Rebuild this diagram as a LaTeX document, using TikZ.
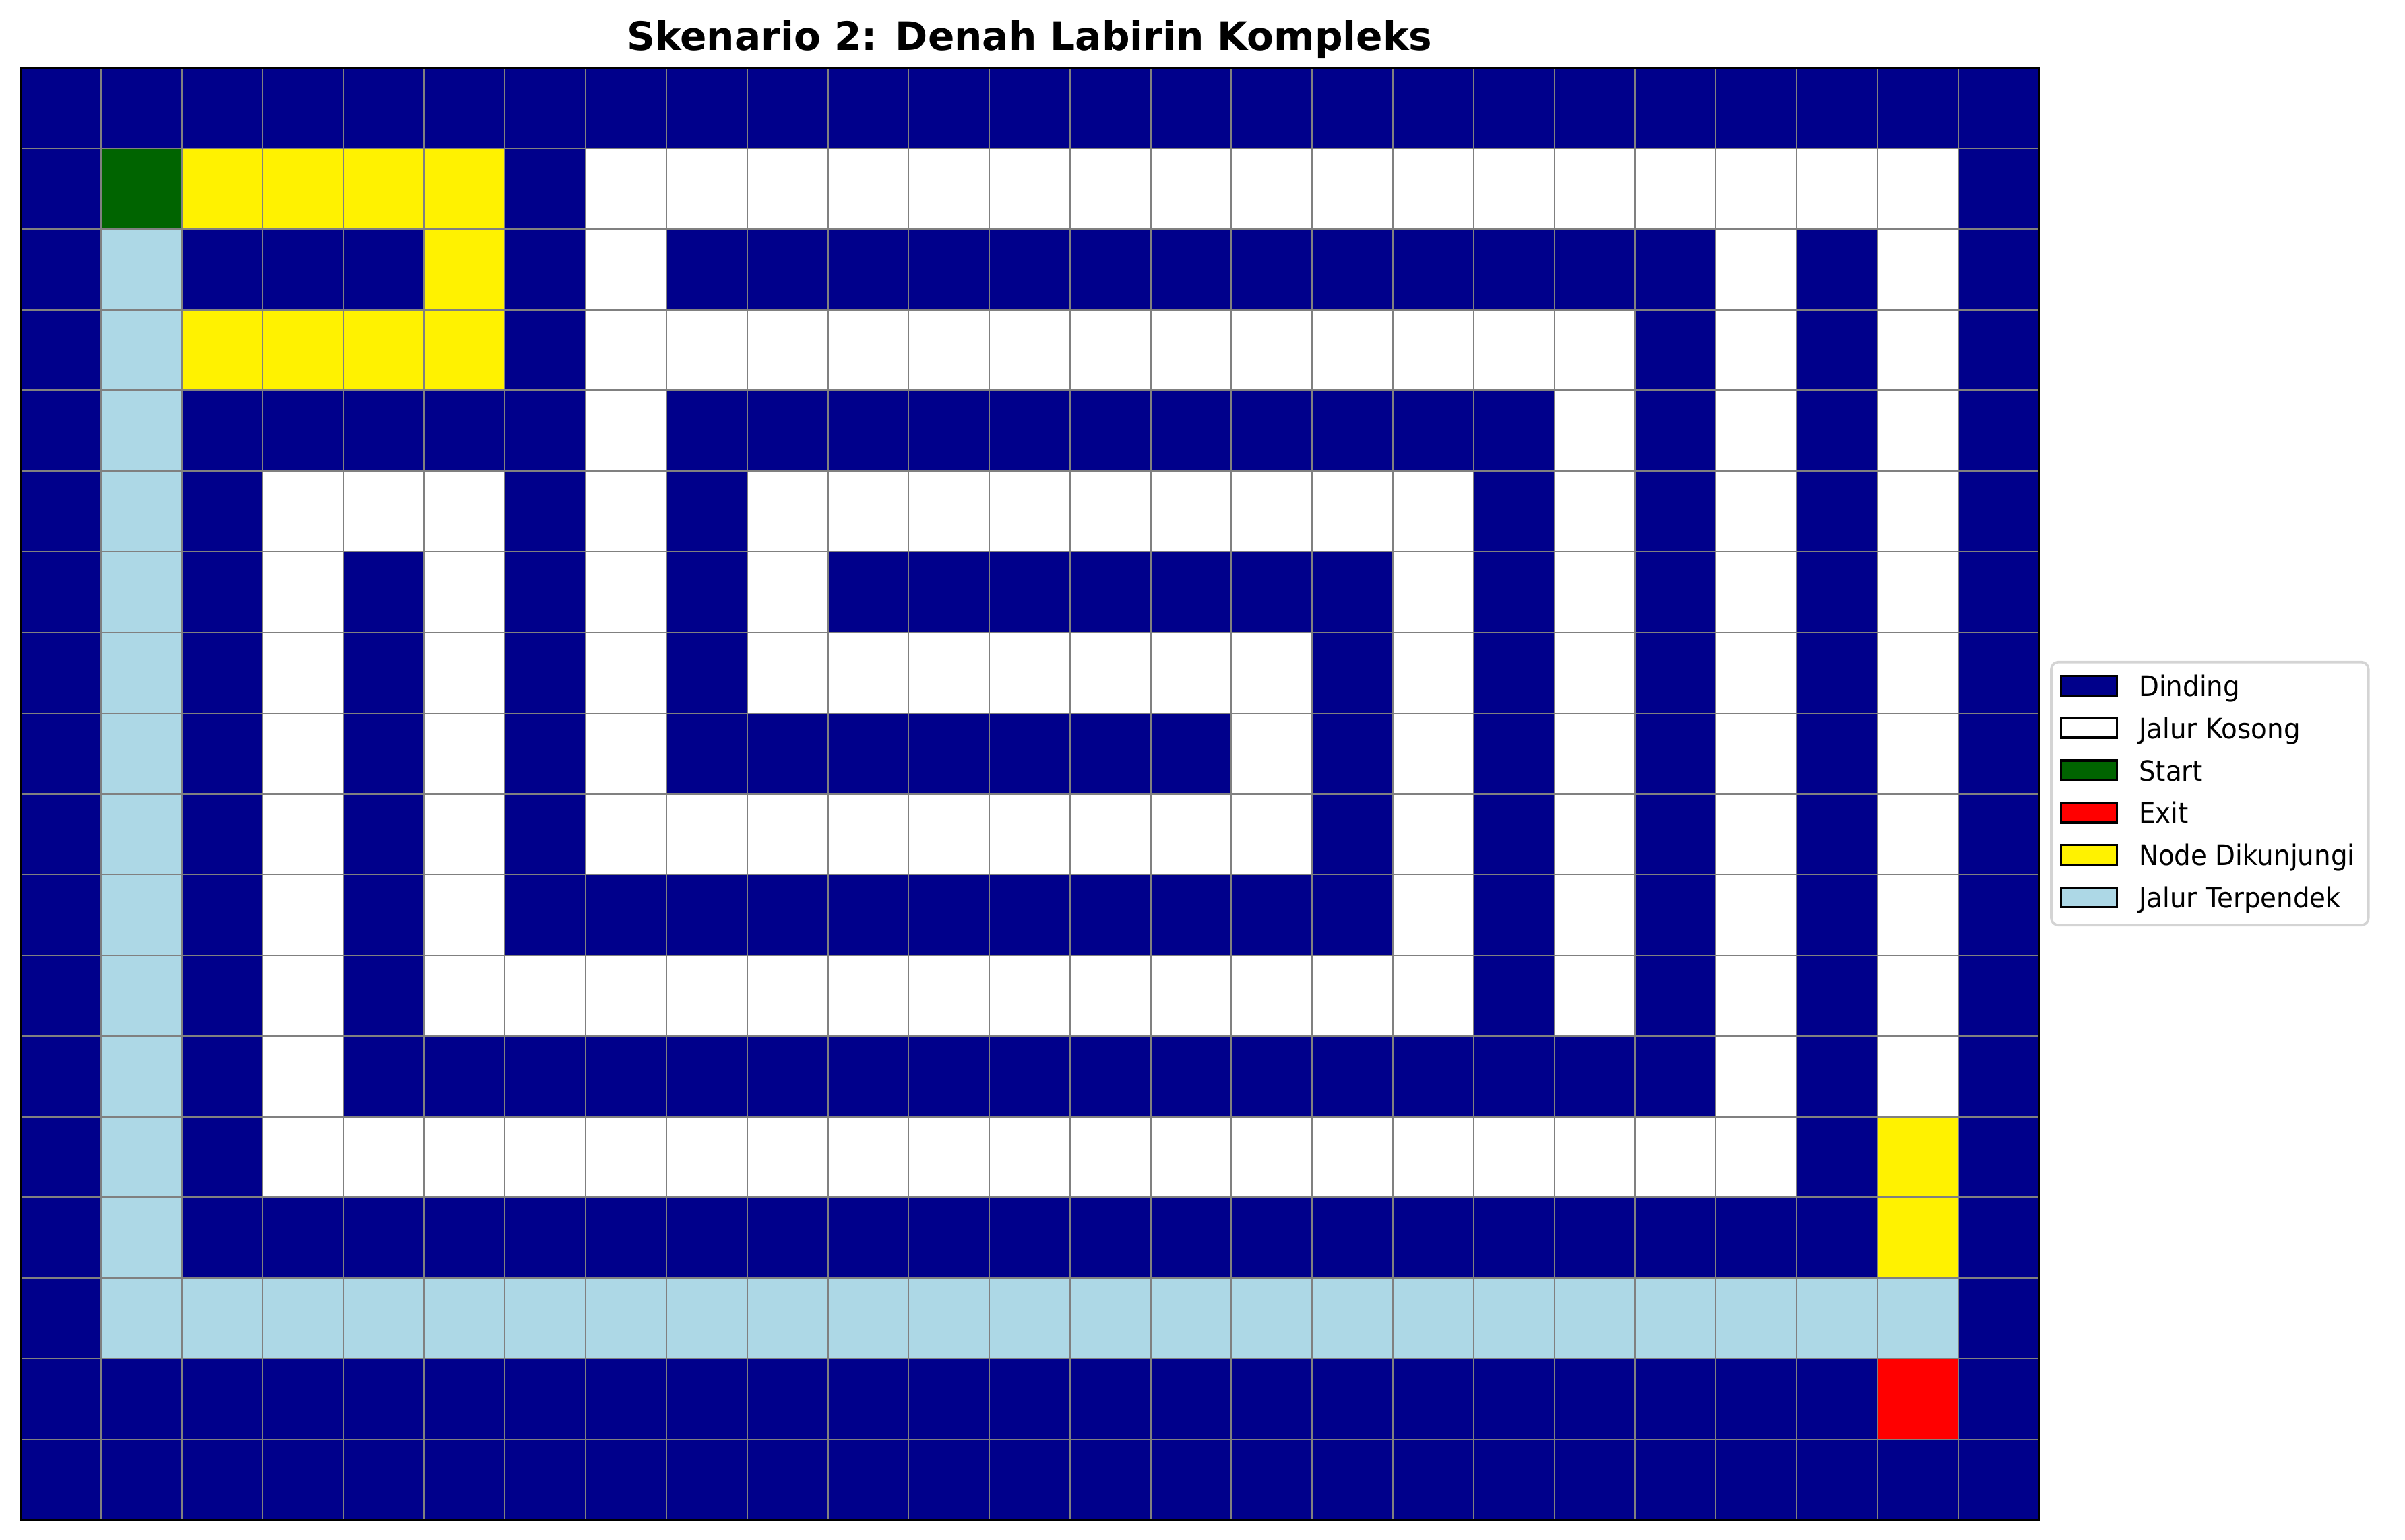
\documentclass[tikz,border=0pt]{standalone}
\usepackage{fontspec}
\setmainfont{DejaVu Sans}
\newfontfamily\keyfont[FakeStretch=0.935]{DejaVu Sans}
\definecolor{wallblue}{HTML}{00008B}
\definecolor{startgreen}{HTML}{006400}
\definecolor{pathblue}{HTML}{ADD8E6}

\begin{document}
\begin{tikzpicture}[
  x=1.0143cm, y=-1.0143cm,
  font=\fontsize{10}{12}\selectfont,
  cellgrid/.style={draw=gray, line width=0.5pt},
  frame/.style={draw=black, line width=0.8pt},
  keybox/.style={rectangle, draw=black, line width=0.9pt, inner sep=0pt,
                 minimum width=20pt, minimum height=7pt},
  keytext/.style={anchor=base west, inner sep=0pt, font=\fontsize{10}{12}\keyfont}
]
\useasboundingbox (-0.2546,-0.837) rectangle (29.537,18.244);

% walls everywhere, open cells on top
\fill[wallblue] (0,0) rectangle (25,18);
\fill[white] (7,1) rectangle (24,2)  (7,3) rectangle (20,4)
             (3,5) rectangle (6,6)   (9,5) rectangle (18,6)
             (9,7) rectangle (16,8)  (7,9) rectangle (16,10)
             (5,11) rectangle (18,12) (3,13) rectangle (22,14);
\fill[white] (7,1) rectangle (8,10)  (3,5) rectangle (4,14)
             (5,5) rectangle (6,12)  (9,5) rectangle (10,8)
             (15,7) rectangle (16,10) (17,5) rectangle (18,12)
             (19,3) rectangle (20,12) (21,1) rectangle (22,14)
             (23,1) rectangle (24,13);
% search result
\fill[yellow] (2,1) rectangle (6,2) (5,2) rectangle (6,3) (2,3) rectangle (6,4)
              (23,13) rectangle (24,15);
\fill[pathblue] (1,2) rectangle (2,16) (1,15) rectangle (24,16);
\fill[startgreen] (1,1) rectangle (2,2);
\fill[red] (23,16) rectangle (24,17);

\foreach \c in {1,...,24} \draw[cellgrid] (\c,0) -- (\c,18);
\foreach \r in {1,...,17} \draw[cellgrid] (0,\r) -- (25,\r);
\draw[frame] (0,0) rectangle (25,18);

\node[font=\fontsize{14}{17}\selectfont\bfseries, anchor=base, inner sep=0pt]
  (title) at (12.5,-0.211) {Skenario 2: Denah Labirin Kompleks};

% legend
\draw[draw=black!17, line width=0.9pt, fill=white, rounded corners=2.5pt]
  (25.155,7.366) rectangle (29.083,10.626);
\node[keybox, fill=wallblue]   (kwall)  at (25.622,7.660)  {};
\node[keybox, fill=white]      (kfree)  at (25.622,8.184)  {};
\node[keybox, fill=startgreen] (kstart) at (25.622,8.709)  {};
\node[keybox, fill=red]        (kexit)  at (25.622,9.233)  {};
\node[keybox, fill=yellow]     (kseen)  at (25.622,9.757)  {};
\node[keybox, fill=pathblue]   (kpath)  at (25.622,10.281) {};
\node[keytext] (lwall)  at (26.234,7.789)  {Dinding};
\node[keytext] (lfree)  at (26.234,8.313)  {Jalur Kosong};
\node[keytext] (lstart) at (26.234,8.838)  {Start};
\node[keytext] (lexit)  at (26.234,9.362)  {Exit};
\node[keytext] (lseen)  at (26.234,9.886)  {Node Dikunjungi};
\node[keytext] (lpath)  at (26.234,10.410) {Jalur Terpendek};
\end{tikzpicture}
\end{document}
